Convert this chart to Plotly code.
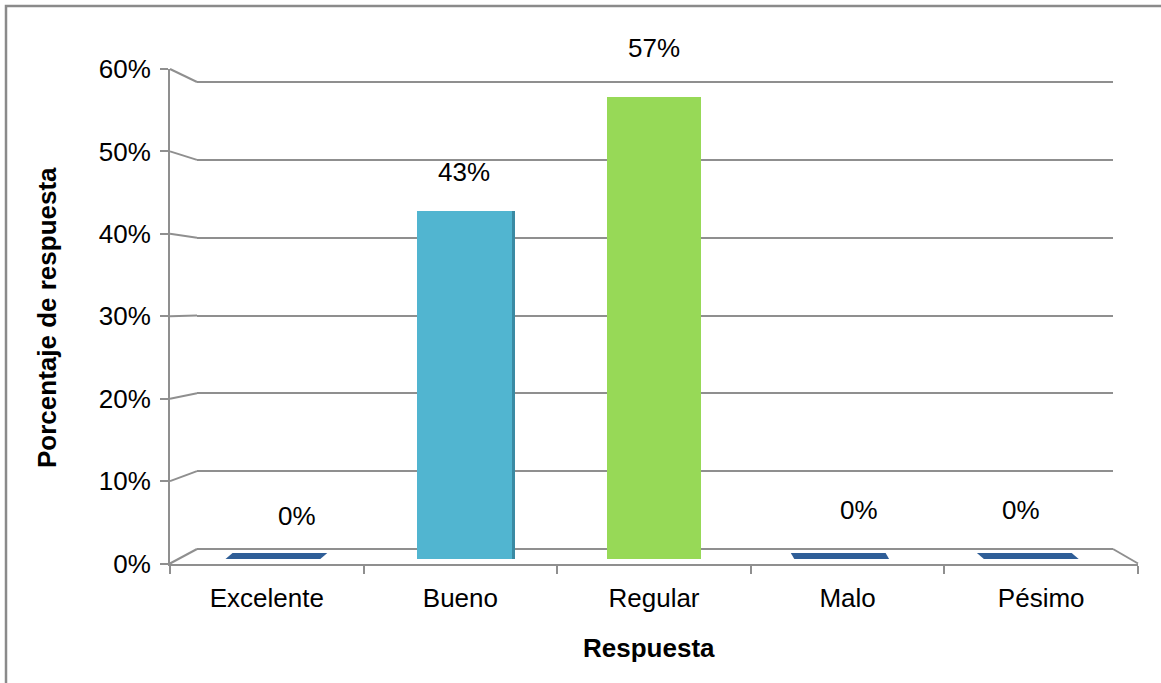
import plotly.graph_objects as go

# --- data -------------------------------------------------------------
categorias = ["Excelente", "Bueno", "Regular", "Malo", "Pésimo"]
porcentajes = [0.0, 0.43, 0.57, 0.0, 0.0]
ticks_y = [0.0, 0.1, 0.2, 0.3, 0.4, 0.5, 0.6]
etiquetas_y = ["0%", "10%", "20%", "30%", "40%", "50%", "60%"]

# --- styling ----------------------------------------------------------
W, H = 1161, 683
FONT = "Liberation Sans, Arial, sans-serif"
GRIS = "#8f8f8f"
colores = ["#2f5e97", "#51b5d0", "#97d957", "#2f5e97", "#2f5e97"]
lateral = ["rgba(0,0,0,0)", "#3a8aa3", "rgba(0,0,0,0)", "rgba(0,0,0,0)", "rgba(0,0,0,0)"]
desplaz_x = [22, 0, 0, 15, -12]
desplaz_y = [43, 39, 49, 49, 49]


def px(x):
    return x / W


def py(y):
    return 1 - y / H


# vertical extent shared by all layers (front scale: 0% .. 60%)
Y_TOP, Y_BOT = 69.0, 563.5
dom_y = [py(Y_BOT), py(Y_TOP)]
alto = Y_BOT - Y_TOP

# back wall scale: 0% at 549 px, 60% at 82 px
BACK0, BACK60 = 549.0, 82.0
k_back = (BACK0 - BACK60) / 0.6
back_lo = -(Y_BOT - BACK0) / k_back
back_hi = back_lo + alto / k_back

# column scale (mid depth): 0% at 559 px
COL0 = 559.0
k_col = 810.0
col_lo = -(Y_BOT - COL0) / k_col
col_hi = col_lo + alto / k_col

# front scale
k_front = alto / 0.6

fig = go.Figure()

# empty traces so the back-wall and front-axis subplots are built
fig.add_trace(go.Scatter(x=[], y=[], xaxis="x", yaxis="y",
                         hoverinfo="skip", showlegend=False))

# side face of the columns
paso = (1128 - 180) / 5.0
fig.add_trace(go.Bar(
    x=categorias, y=porcentajes, xaxis="x2", yaxis="y2",
    width=0.5, offset=-0.25 + 3.0 / paso,
    marker=dict(color=lateral, line=dict(width=0)),
    hoverinfo="skip", showlegend=False,
))
# columns
fig.add_trace(go.Bar(
    x=categorias, y=porcentajes, xaxis="x2", yaxis="y2",
    width=0.5, offset=-0.25,
    marker=dict(color=colores, line=dict(width=0)),
    showlegend=False,
))

fig.add_trace(go.Scatter(x=[], y=[], xaxis="x3", yaxis="y3",
                         hoverinfo="skip", showlegend=False))

shapes = []
# outer chart border
shapes.append(dict(type="rect", xref="paper", yref="paper",
                   x0=px(6), x1=px(1175), y0=py(700), y1=py(6),
                   line=dict(color="#8a8a8a", width=2.5), layer="below"))

# perspective joins between front axis and back wall
for v in ticks_y:
    shapes.append(dict(type="line", xref="paper", yref="paper",
                       x0=px(170), y0=py(Y_BOT - v * k_front),
                       x1=px(197), y1=py(BACK0 - v * k_back),
                       line=dict(color=GRIS, width=2)))
shapes.append(dict(type="line", xref="paper", yref="paper",
                   x0=px(1113), y0=py(BACK0), x1=px(1138), y1=py(Y_BOT),
                   line=dict(color=GRIS, width=2)))

# flat plates for empty categories
for i, (c, v) in enumerate(zip(categorias, porcentajes)):
    if v == 0:
        s = (2 - i) * 0.0185
        grosor = 6.0 / k_col
        yb, yt = v - 0.0, v + grosor
        x0, x1 = i - 0.26, i + 0.24
        path = (f"M {x0},{yb} L {x1},{yb} L {x1 + s},{yt} L {x0 + s},{yt} Z")
        shapes.append(dict(type="path", xref="x2", yref="y2", path=path,
                           fillcolor=colores[i], line=dict(width=0)))

annotations = []
for i, (c, v) in enumerate(zip(categorias, porcentajes)):
    annotations.append(dict(
        x=i, y=v, xref="x2", yref="y2", text=f"{round(v * 100)}%",
        showarrow=False, xanchor="center", yanchor="middle",
        xshift=desplaz_x[i], yshift=desplaz_y[i],
        font=dict(family=FONT, size=26, color="#000000"),
    ))

annotations.append(dict(
    x=px(47), y=py(318), xref="paper", yref="paper",
    text="<b>Porcentaje de respuesta</b>", textangle=-90, showarrow=False,
    xanchor="center", yanchor="middle",
    font=dict(family=FONT, size=26, color="#000000"),
))
annotations.append(dict(
    x=px(649), y=py(648), xref="paper", yref="paper",
    text="<b>Respuesta</b>", showarrow=False,
    xanchor="center", yanchor="middle",
    font=dict(family=FONT, size=26, color="#000000"),
))

fig.update_layout(
    width=W, height=H, autosize=False,
    margin=dict(l=0, r=0, t=0, b=0, pad=0, autoexpand=False),
    paper_bgcolor="white", plot_bgcolor="rgba(0,0,0,0)",
    barmode="overlay", bargap=0,
    font=dict(family=FONT, size=26, color="#000000"),
    shapes=shapes, annotations=annotations,
    # back wall with its gridlines
    xaxis=dict(domain=[px(197), px(1113)], range=[0, 1], visible=False,
               anchor="y", automargin=False),
    yaxis=dict(domain=dom_y, range=[back_lo, back_hi], anchor="x",
               tickmode="array", tickvals=ticks_y, showticklabels=False,
               ticks="", showline=False, showgrid=True, gridcolor=GRIS,
               gridwidth=2, zeroline=False, automargin=False),
    # columns
    xaxis2=dict(domain=[px(180), px(1128)], type="category",
                categoryorder="array", categoryarray=categorias,
                range=[-0.5, 4.5], visible=False, anchor="y2",
                automargin=False),
    yaxis2=dict(domain=dom_y, range=[col_lo, col_hi], visible=False,
                anchor="x2", automargin=False),
    # front axes with ticks and labels
    xaxis3=dict(domain=[px(170), px(1138)], range=[-0.5, 4.5], anchor="y3",
                tickmode="array", tickvals=list(range(len(categorias))),
                ticktext=categorias, ticks="", showline=True,
                linecolor=GRIS, linewidth=2, showgrid=False, zeroline=False,
                ticklabelstandoff=10, automargin=False,
                minor=dict(tickmode="linear", tick0=-0.5, dtick=1,
                           ticks="outside", ticklen=8, tickwidth=2,
                           tickcolor=GRIS, showgrid=False)),
    yaxis3=dict(domain=dom_y, range=[0, 0.6], anchor="x3",
                tickmode="array", tickvals=ticks_y, ticktext=etiquetas_y,
                ticks="outside", ticklen=8, tickwidth=2, tickcolor=GRIS,
                showline=True, linecolor=GRIS, linewidth=2, showgrid=False,
                zeroline=False, ticklabelstandoff=4, automargin=False),
)

fig.write_html("out.html")
